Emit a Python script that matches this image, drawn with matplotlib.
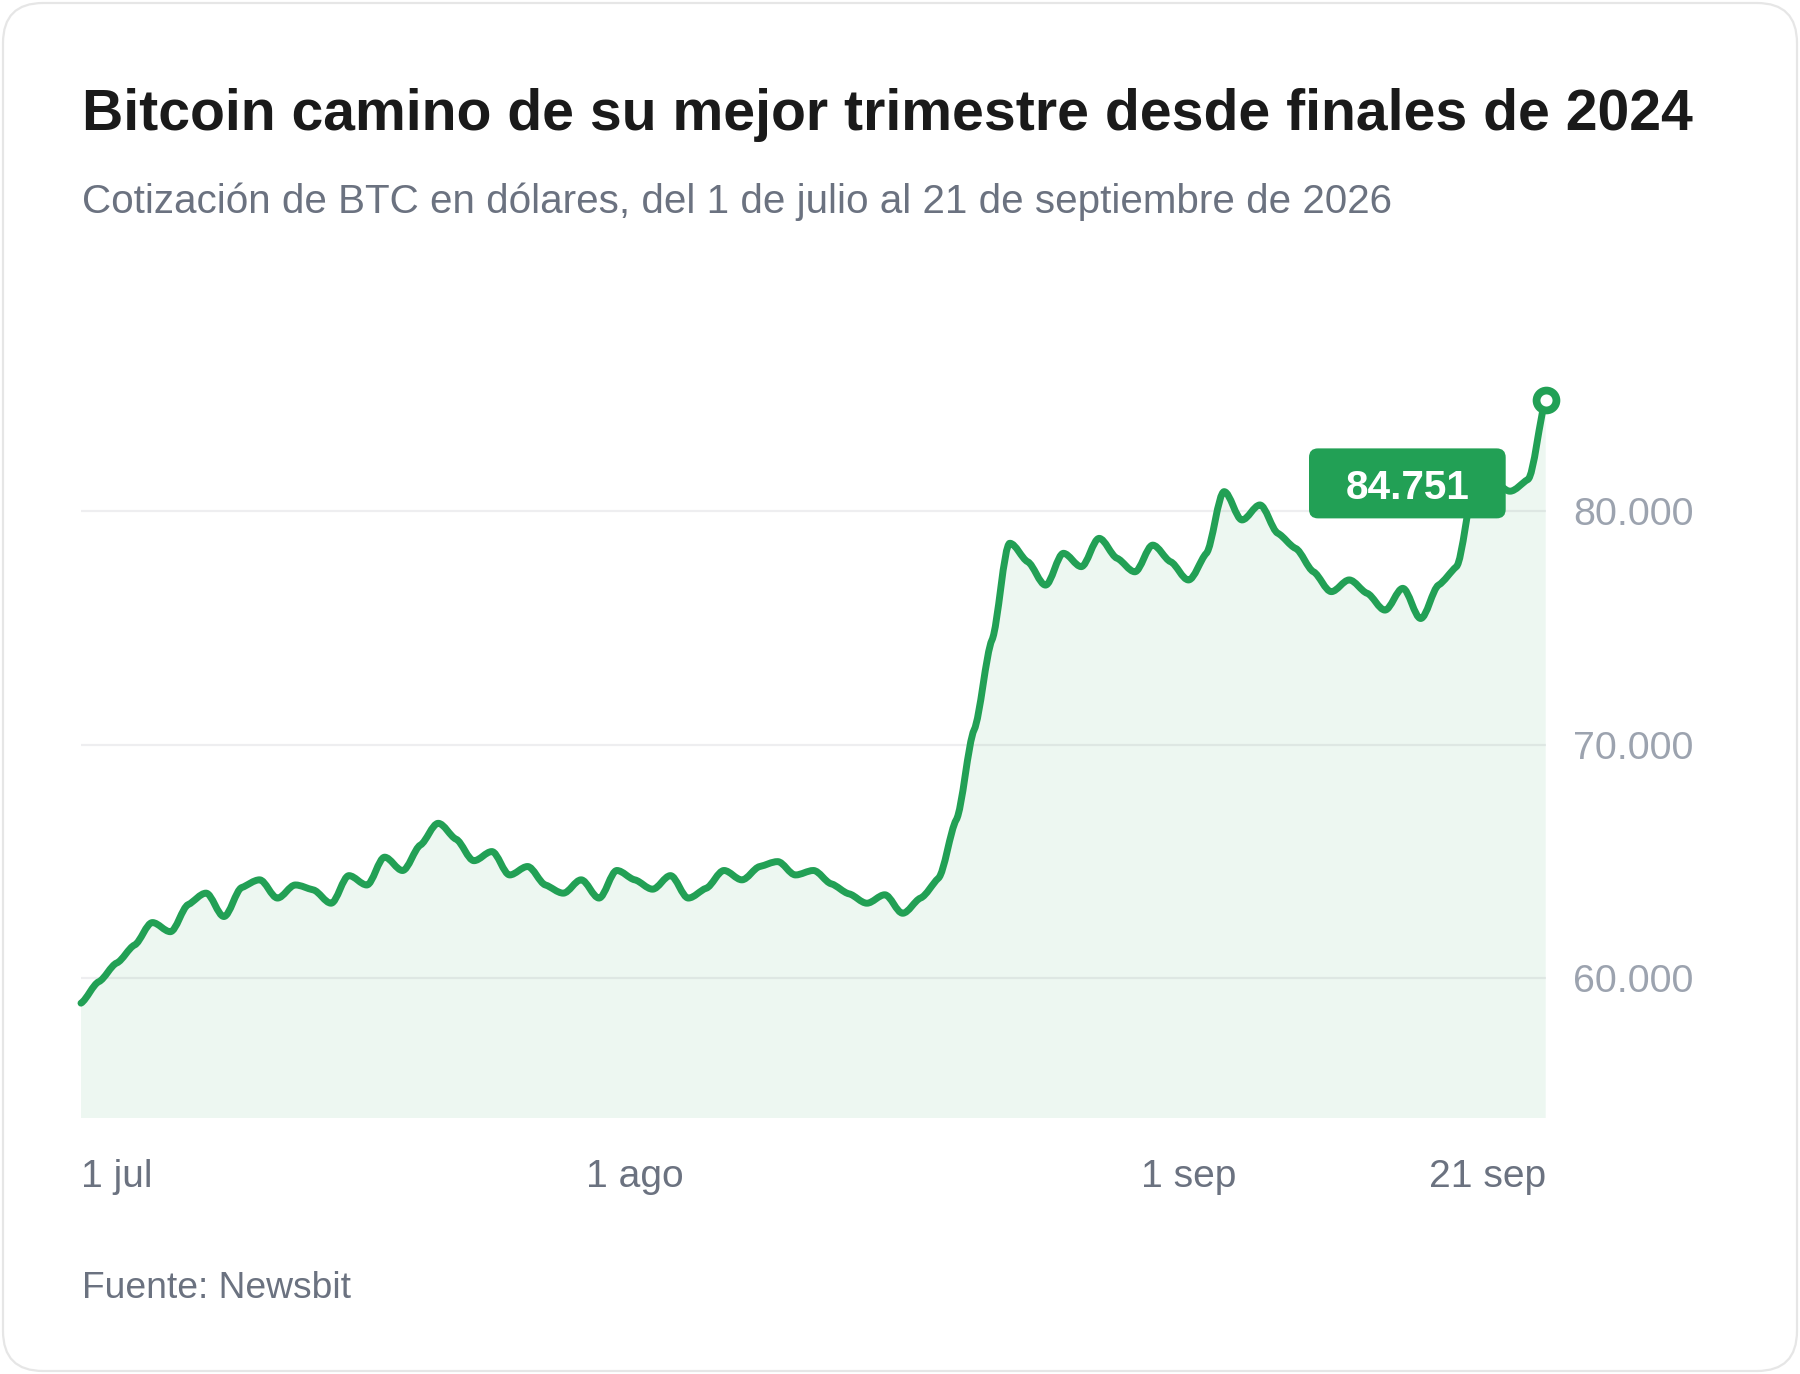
import numpy as np
import matplotlib
matplotlib.use("Agg")
import matplotlib.pyplot as plt
from matplotlib.path import Path
from matplotlib.patches import PathPatch, FancyBboxPatch
from matplotlib.transforms import IdentityTransform

plt.rcParams['font.family'] = ['Liberation Sans', 'DejaVu Sans']

# BTC daily close, 1 Jul .. 21 Sep (day index 0..82)
prices = [58930, 59850, 60650, 61420, 62380, 61990, 63150, 63640, 62640, 63880,
          64210, 63430, 63990, 63780, 63210, 64390, 63990, 65180, 64610, 65700,
          66630, 65950, 65030, 65420, 64420, 64780, 63990, 63640, 64210, 63430,
          64610, 64210, 63810, 64390, 63430, 63850, 64610, 64210, 64780, 64990,
          64420, 64610, 64040, 63610, 63210, 63570, 62780, 63430, 64280, 66780,
          70630, 74480, 78620, 77830, 76830, 78190, 77620, 78830, 77980, 77400,
          78540, 77830, 77050, 78190, 80830, 79620, 80260, 79050, 78400, 77400,
          76550, 77050, 76480, 75760, 76690, 75400, 76830, 77620, 80900, 81300,
          80850, 81350, 84751]
days = list(range(len(prices)))
tick_days = [0, 31, 62, 82]
tick_labels = ["1 jul", "1 ago", "1 sep", "21 sep"]
y_ticks = [60000, 70000, 80000]
y_labels = ["60.000", "70.000", "80.000"]
last_label = "84.751"

green = '#22a055'
W, H = 1800, 1374


def monotone_path(xs, ys, k=0.4):
    # monotone cubic through the points as bezier segments,
    # tangents damped by k so each day shows a small shoulder
    xs = np.asarray(xs, float)
    ys = np.asarray(ys, float)
    n = len(xs)
    h = np.diff(xs)
    s = np.diff(ys) / h
    t = np.zeros(n)
    for i in range(1, n - 1):
        p = (s[i - 1] * h[i] + s[i] * h[i - 1]) / (h[i - 1] + h[i])
        t[i] = (np.sign(s[i - 1]) + np.sign(s[i])) * min(abs(s[i - 1]), abs(s[i]), 0.5 * abs(p))
    t *= k
    t[0] = (3 * s[0] - t[1]) / 2 * k
    t[-1] = (3 * s[-1] - t[-2]) / 2 * k
    verts = [(xs[0], ys[0])]
    codes = [Path.MOVETO]
    for i in range(n - 1):
        dx = h[i] / 3
        verts += [(xs[i] + dx, ys[i] + dx * t[i]),
                  (xs[i + 1] - dx, ys[i + 1] - dx * t[i + 1]),
                  (xs[i + 1], ys[i + 1])]
        codes += [Path.CURVE4] * 3
    return verts, codes


fig = plt.figure(figsize=(W / 100, H / 100), dpi=100)
fig.patch.set_facecolor('white')

# card outline
card = FancyBboxPatch((3, 3), W - 6, H - 6, boxstyle='round,pad=0,rounding_size=40',
                      transform=IdentityTransform(), facecolor='none',
                      edgecolor='#e6e6e6', linewidth=1.6, zorder=-5)
fig.patches.append(card)

ax = fig.add_axes([81 / W, 255.7 / H, 1464.7 / W, 794.1 / H])
ax.set_xlim(0, 82)
ax.set_ylim(54000, 88000)
ax.patch.set_alpha(0)
for sp in ax.spines.values():
    sp.set_visible(False)

for yv in y_ticks:
    ax.axhline(yv, color='#eeeef0', lw=1.6, zorder=1)

verts, codes = monotone_path(days, prices)
line_path = Path(verts, codes)
fill_verts = verts + [(days[-1], 54000), (days[0], 54000), verts[0]]
fill_codes = codes + [Path.LINETO, Path.LINETO, Path.CLOSEPOLY]
ax.add_patch(PathPatch(Path(fill_verts, fill_codes), facecolor=green, alpha=0.08,
                       edgecolor='none', zorder=2))
ax.add_patch(PathPatch(line_path, facecolor='none', edgecolor=green, lw=5.0,
                       capstyle='round', joinstyle='round', zorder=3, clip_on=False))

ax.plot(days[-1], prices[-1], 'o', ms=14.3, mfc='white', mec=green, mew=5.6,
        zorder=5, clip_on=False)

ax.yaxis.tick_right()
ax.set_yticks(y_ticks)
ax.set_yticklabels(y_labels)
ax.tick_params(axis='y', length=0, pad=20, labelsize=28.4, labelcolor='#9ca3af')
ax.set_xticks(tick_days)
ax.set_xticklabels(tick_labels)
ax.tick_params(axis='x', length=0, pad=29, labelsize=28.1, labelcolor='#6b7280')
xl = ax.get_xticklabels()
xl[0].set_ha('left')
xl[-1].set_ha('right')

# value label box next to the last point
px, py = ax.transData.transform((days[-1], prices[-1]))
box = FancyBboxPatch((px - 236.7, py - 118.3), 196.7, 70,
                     boxstyle='round,pad=0,rounding_size=9',
                     transform=IdentityTransform(), facecolor=green,
                     edgecolor='none', zorder=6)
fig.patches.append(box)
fig.text((px - 138.3) / W, (py - 88) / H, last_label, ha='center', va='center',
         fontsize=29.2, fontweight='bold', color='white', zorder=7)

fig.text(81.7 / W, (H - 130) / H,
         "Bitcoin camino de su mejor trimestre desde finales de 2024",
         fontsize=41.1, fontweight='bold', color='#1a1a1a', va='baseline')
fig.text(81.7 / W, (H - 213.3) / H,
         "Cotización de BTC en dólares, del 1 de julio al 21 de septiembre de 2026",
         fontsize=29.1, color='#6b7280', va='baseline')
fig.text(81.7 / W, (H - 1298.3) / H, "Fuente: Newsbit",
         fontsize=26.8, color='#6b7280', va='baseline')

fig.savefig('out.png', dpi=100)
